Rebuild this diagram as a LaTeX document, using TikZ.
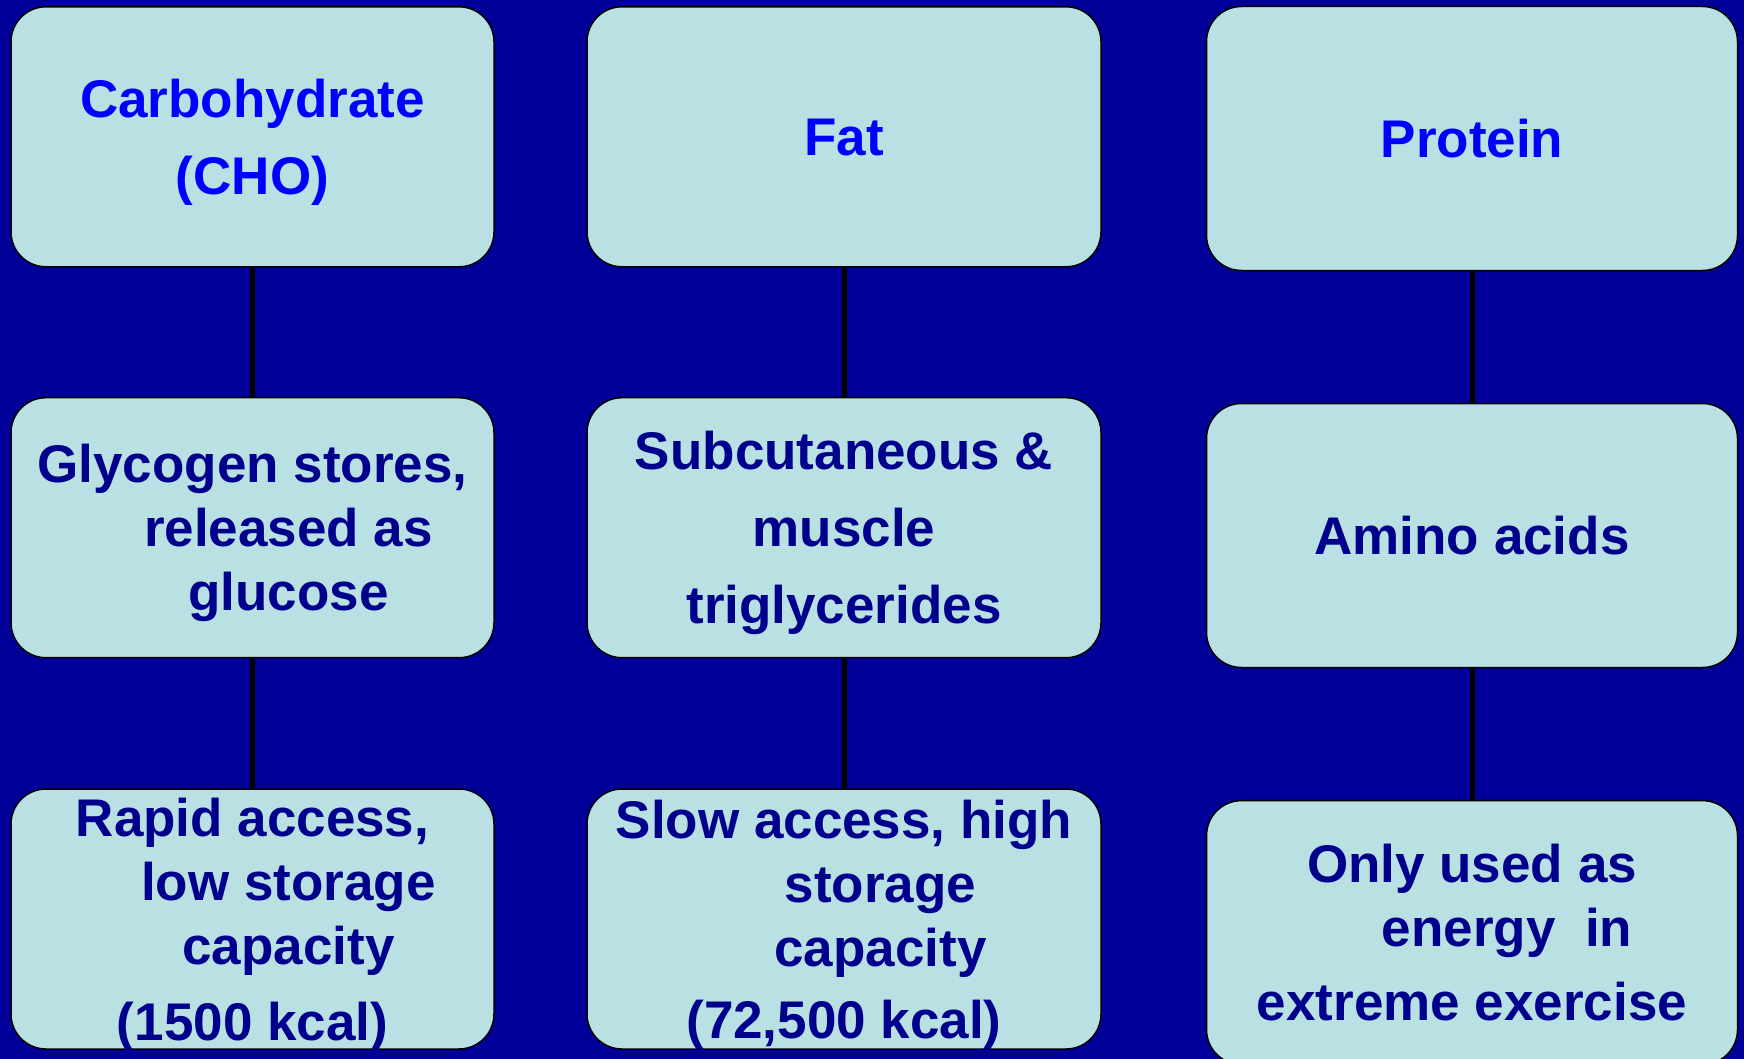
\documentclass[tikz,border=0pt]{standalone}
\usepackage{fontspec}
\setmainfont{Liberation Sans}
\definecolor{bgblue}{RGB}{0,0,153}
\definecolor{boxfill}{RGB}{185,224,227}
\definecolor{headblue}{RGB}{0,0,255}
\definecolor{textnavy}{RGB}{0,0,140}
\begin{document}
\begin{tikzpicture}[x=1pt,y=-1pt, line join=round, line cap=round,
    box/.style={draw=black, line width=1.5pt, fill=boxfill, rounded corners=35pt,
      align=center, inner sep=0pt, text=textnavy, text depth=0pt,
      font=\bfseries\fontsize{53}{64}\selectfont},
    head/.style={box, text=headblue},
    link/.style={line width=5pt, line cap=butt}]
        \def\wa{483} \def\wb{514} \def\wc{531} % box widths
        \def\hh{260} % box height

        \fill[bgblue] (0,0) rectangle (1744,1059);
        \useasboundingbox (0,0) rectangle (1744,1059);
        \clip (0,0) rectangle (1744,1059);

        % top row
        \node[head, minimum width=\wa pt, minimum height=\hh pt] (cho) at (252.5,136.8) {Carbohydrate\\[13pt](CHO)};
        \node[head, minimum width=\wb pt, minimum height=\hh pt] (fat) at (844,136.8) {Fat};
        \node[head, minimum width=\wc pt, minimum height=264pt] (prot) at (1472,138.5) {Protein};

        % middle row
        \node[box, minimum width=\wa pt, minimum height=\hh pt] (glyc) at (252.5,527.7) {Glycogen stores,\\\hspace*{72pt}released as\\\hspace*{72pt}glucose};
        \node[box, minimum width=\wb pt, minimum height=\hh pt] (trig) at (844,527.7) {Subcutaneous \&\\[13pt]muscle\\[13pt]triglycerides};
        \node[box, minimum width=\wc pt, minimum height=264pt] (amino) at (1472,535.5) {Amino acids};

        % bottom row
        \node[box, minimum width=\wa pt, minimum height=\hh pt] (rapid) at (252.5,919) {Rapid access,\\\hspace*{72pt}low storage\\\hspace*{72pt}capacity\\[12pt](1500 kcal)};
        \node[box, minimum width=\wb pt, minimum height=\hh pt] (slow) at (844,919) {Slow access, high\\\hspace*{73pt}storage\\\hspace*{73pt}capacity\\[8pt](72,500 kcal)};
        \node[box, minimum width=\wc pt, minimum height=264pt] (extreme) at (1472,932.6) {Only used as\\\hspace*{70pt}energy\ \ in\\[10pt]extreme exercise};

        \draw[link] (cho.south)--(glyc.north);
        \draw[link] (glyc.south)--(rapid.north);
        \draw[link] (fat.south)--(trig.north);
        \draw[link] (trig.south)--(slow.north);
        \draw[link] (prot.south)--(amino.north);
        \draw[link] (amino.south)--(extreme.north);
    \end{tikzpicture}
\end{document}
